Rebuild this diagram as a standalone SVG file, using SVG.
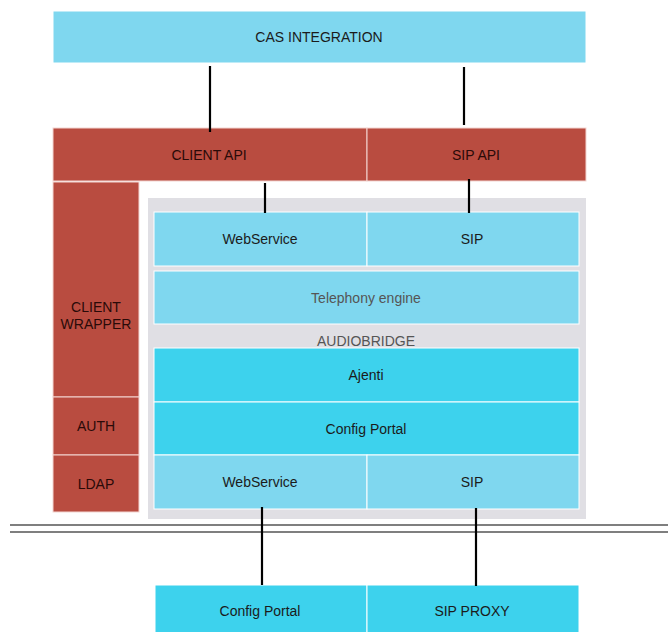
<svg xmlns="http://www.w3.org/2000/svg" width="668" height="632" viewBox="0 0 668 632">
<style>
.lb{fill:#7fd7ef;stroke:#ffffff;stroke-width:1}
.cy{fill:#3dd2ed;stroke:#ffffff;stroke-width:1}
.rd{fill:#b94c40;stroke:#f3d6d2;stroke-width:1}
.gr{fill:#e0dfe4}
text{font-family:"Liberation Sans",Arial,sans-serif;font-size:14px;fill:#1b1b1b;text-anchor:middle;dominant-baseline:central}
.rd-t{fill:#2a0a08}
.gt{fill:#555555}
.conn{stroke:#000000;stroke-width:2.2;fill:none}
.sep{stroke:#555555;stroke-width:1.4;fill:none}
</style>
<rect width="668" height="632" fill="#ffffff"/>
<g id="audiobridge">
<rect class="gr" x="148" y="198" width="438" height="321"/>
<text class="gt" x="366" y="341">AUDIOBRIDGE</text>
</g>
<g id="cas"><rect class="lb" x="53" y="11" width="533" height="52"/><text x="319" y="37">CAS INTEGRATION</text></g>
<g id="client-api"><rect class="rd" x="53" y="128" width="314" height="53"/><text class="rd-t" x="209" y="155">CLIENT API</text></g>
<g id="sip-api"><rect class="rd" x="367" y="128" width="219" height="53"/><text class="rd-t" x="476" y="155">SIP API</text></g>
<g id="client-wrapper"><rect class="rd" x="53" y="182" width="86" height="215"/><text class="rd-t" x="96" y="307">CLIENT</text><text class="rd-t" x="96" y="324">WRAPPER</text></g>
<g id="auth"><rect class="rd" x="53" y="397" width="86" height="58"/><text class="rd-t" x="96" y="426">AUTH</text></g>
<g id="ldap"><rect class="rd" x="53" y="455" width="86" height="57"/><text class="rd-t" x="96" y="484">LDAP</text></g>
<g id="webservice-top"><rect class="lb" x="154" y="212" width="213" height="54"/><text x="260" y="239">WebService</text></g>
<g id="sip-top"><rect class="lb" x="367" y="212" width="212" height="54"/><text x="472" y="239">SIP</text></g>
<g id="telephony"><rect class="lb" x="154" y="271" width="425" height="53"/><text class="gt" x="366" y="298">Telephony engine</text></g>
<g id="ajenti"><rect class="cy" x="154" y="348" width="425" height="54"/><text x="366" y="375">Ajenti</text></g>
<g id="config-portal"><rect class="cy" x="154" y="402" width="425" height="53"/><text x="366" y="429">Config Portal</text></g>
<g id="webservice-bottom"><rect class="lb" x="154" y="455" width="213" height="54"/><text x="260" y="482">WebService</text></g>
<g id="sip-bottom"><rect class="lb" x="367" y="455" width="212" height="54"/><text x="472" y="482">SIP</text></g>
<g id="config-portal-ext"><rect class="cy" x="155" y="585" width="212" height="48"/><text x="260" y="611">Config Portal</text></g>
<g id="sip-proxy"><rect class="cy" x="367" y="585" width="212" height="48"/><text x="472" y="611">SIP PROXY</text></g>
<g id="separator">
<line class="sep" x1="10" y1="525" x2="668" y2="525"/>
<line class="sep" x1="10" y1="532" x2="668" y2="532"/>
</g>
<g id="connectors">
<line class="conn" x1="210" y1="66" x2="210" y2="132"/>
<line class="conn" x1="464" y1="67" x2="464" y2="125"/>
<line class="conn" x1="265" y1="183" x2="265" y2="213"/>
<line class="conn" x1="469" y1="179" x2="469" y2="213"/>
<line class="conn" x1="262" y1="507" x2="262" y2="585"/>
<line class="conn" x1="476" y1="508" x2="476" y2="586"/>
</g>
</svg>
